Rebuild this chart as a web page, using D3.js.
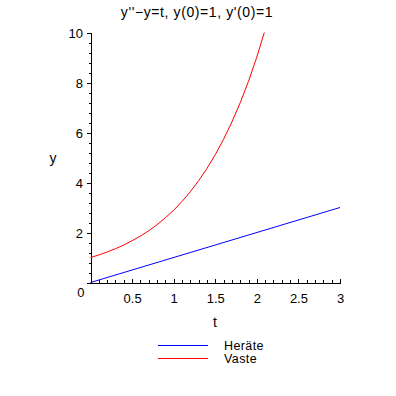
<!DOCTYPE html>
<html>
<head>
<meta charset="utf-8">
<script src="https://cdn.jsdelivr.net/npm/d3@7"></script>
<style>
    body { margin: 0; background: #fff; }
    svg { display: block; }
    text { font-family: "Liberation Sans", Arial, sans-serif; font-size: 13px; fill: #000; }
    .axis path, .axis line { stroke: #000; shape-rendering: crispEdges; }
</style>
</head>
<body>
<svg id="chart" width="396" height="396"></svg>
<script>
// data //
// ------------------------- //
var tVaste = [0, 0.1, 0.2, 0.3, 0.4, 0.5, 0.6, 0.7, 0.8, 0.9, 1.0, 1.1,
              1.2, 1.3, 1.4, 1.5, 1.6, 1.7, 1.8, 1.9, 2.0, 2.09];
var yVaste = [1.0, 1.1, 1.22, 1.35, 1.5, 1.67, 1.86, 2.07, 2.31, 2.59, 2.89, 3.24,
              3.63, 4.07, 4.56, 5.11, 5.73, 6.42, 7.19, 8.05, 9.02, 10.0];
var tHeraete = [0, 3];
var yHeraete = [0, 3];
var xTicks = [0.5, 1, 1.5, 2, 2.5, 3];
var yTicks = [0, 2, 4, 6, 8, 10];
var legendNames = ["Heräte", "Vaste"];
var legendColors = ["#0000ff", "#ff0000"];

var svg = d3.select("#chart");

var x = d3.scaleLinear().domain([0, 3]).range([90.5, 340]);
var y = d3.scaleLinear().domain([0, 10]).range([282.5, 32.5]);

// title
svg.append("text")
    .attr("x", 197).attr("y", 17)
    .attr("text-anchor", "middle")
    .style("font-size", "14px")
    .style("letter-spacing", "0.6px")
    .text("y''\u2212y=t, y(0)=1, y'(0)=1");

// x axis: minor ticks every 0.1, major labelled
svg.append("g").attr("class", "axis")
    .attr("transform", "translate(0,282.5)")
    .call(d3.axisBottom(x).tickValues(d3.range(1, 31).map(function (d) { return d / 10; }))
        .tickSize(-3).tickSizeOuter(0).tickFormat(""));
var gx = svg.append("g").attr("class", "axis")
    .attr("transform", "translate(0,282.5)")
    .call(d3.axisBottom(x).tickValues(xTicks).tickSize(-4).tickSizeOuter(0)
        .tickPadding(11).tickFormat(d3.format("~g")));
gx.select(".domain").remove();
gx.selectAll("text").style("font-size", "13px").style("font-family", null);

// y axis: minor ticks every 0.4
svg.append("g").attr("class", "axis")
    .attr("transform", "translate(90.5,0)")
    .call(d3.axisLeft(y).tickValues(d3.range(0, 26).map(function (d) { return d * 0.4; }))
        .tickSize(2).tickSizeOuter(0).tickFormat(""));
var gy = svg.append("g").attr("class", "axis")
    .attr("transform", "translate(90.5,0)")
    .call(d3.axisLeft(y).tickValues(yTicks).tickSize(4).tickSizeOuter(0).tickPadding(3));
gy.select(".domain").remove();
gy.selectAll("text").style("font-size", "13px").style("font-family", null)
    .attr("dy", function (d) { return d === 0 ? "1.05em" : "0.36em"; })
    .attr("x", function (d) { return d === 0 ? -6 : -7.5; });

// axis labels
svg.append("text").attr("x", 215).attr("y", 327).attr("text-anchor", "middle")
    .style("font-size", "14px").text("t");
svg.append("text").attr("x", 53).attr("y", 163).attr("text-anchor", "middle")
    .style("font-size", "14px").text("y");

// curves
var line = d3.line()
    .x(function (d) { return x(d[0]); })
    .y(function (d) { return y(d[1]); });

svg.append("path")
    .datum(d3.zip(tHeraete, yHeraete))
    .attr("d", line)
    .attr("fill", "none").attr("stroke", legendColors[0]).attr("stroke-width", 1);

svg.append("path")
    .datum(d3.zip(tVaste, yVaste))
    .attr("d", line)
    .attr("fill", "none").attr("stroke", legendColors[1]).attr("stroke-width", 1);

// legend
var leg = svg.selectAll(".leg").data(legendNames).enter().append("g").attr("class", "leg")
    .attr("transform", function (d, i) { return "translate(0," + (345.5 + i * 13) + ")"; });
leg.append("line")
    .attr("x1", 158).attr("x2", 208)
    .attr("stroke", function (d, i) { return legendColors[i]; })
    .style("shape-rendering", "crispEdges");
leg.append("text")
    .attr("x", 224).attr("y", 4.5)
    .style("font-size", "12.5px")
    .style("letter-spacing", "0.4px")
    .text(function (d) { return d; });
</script>
</body>
</html>
